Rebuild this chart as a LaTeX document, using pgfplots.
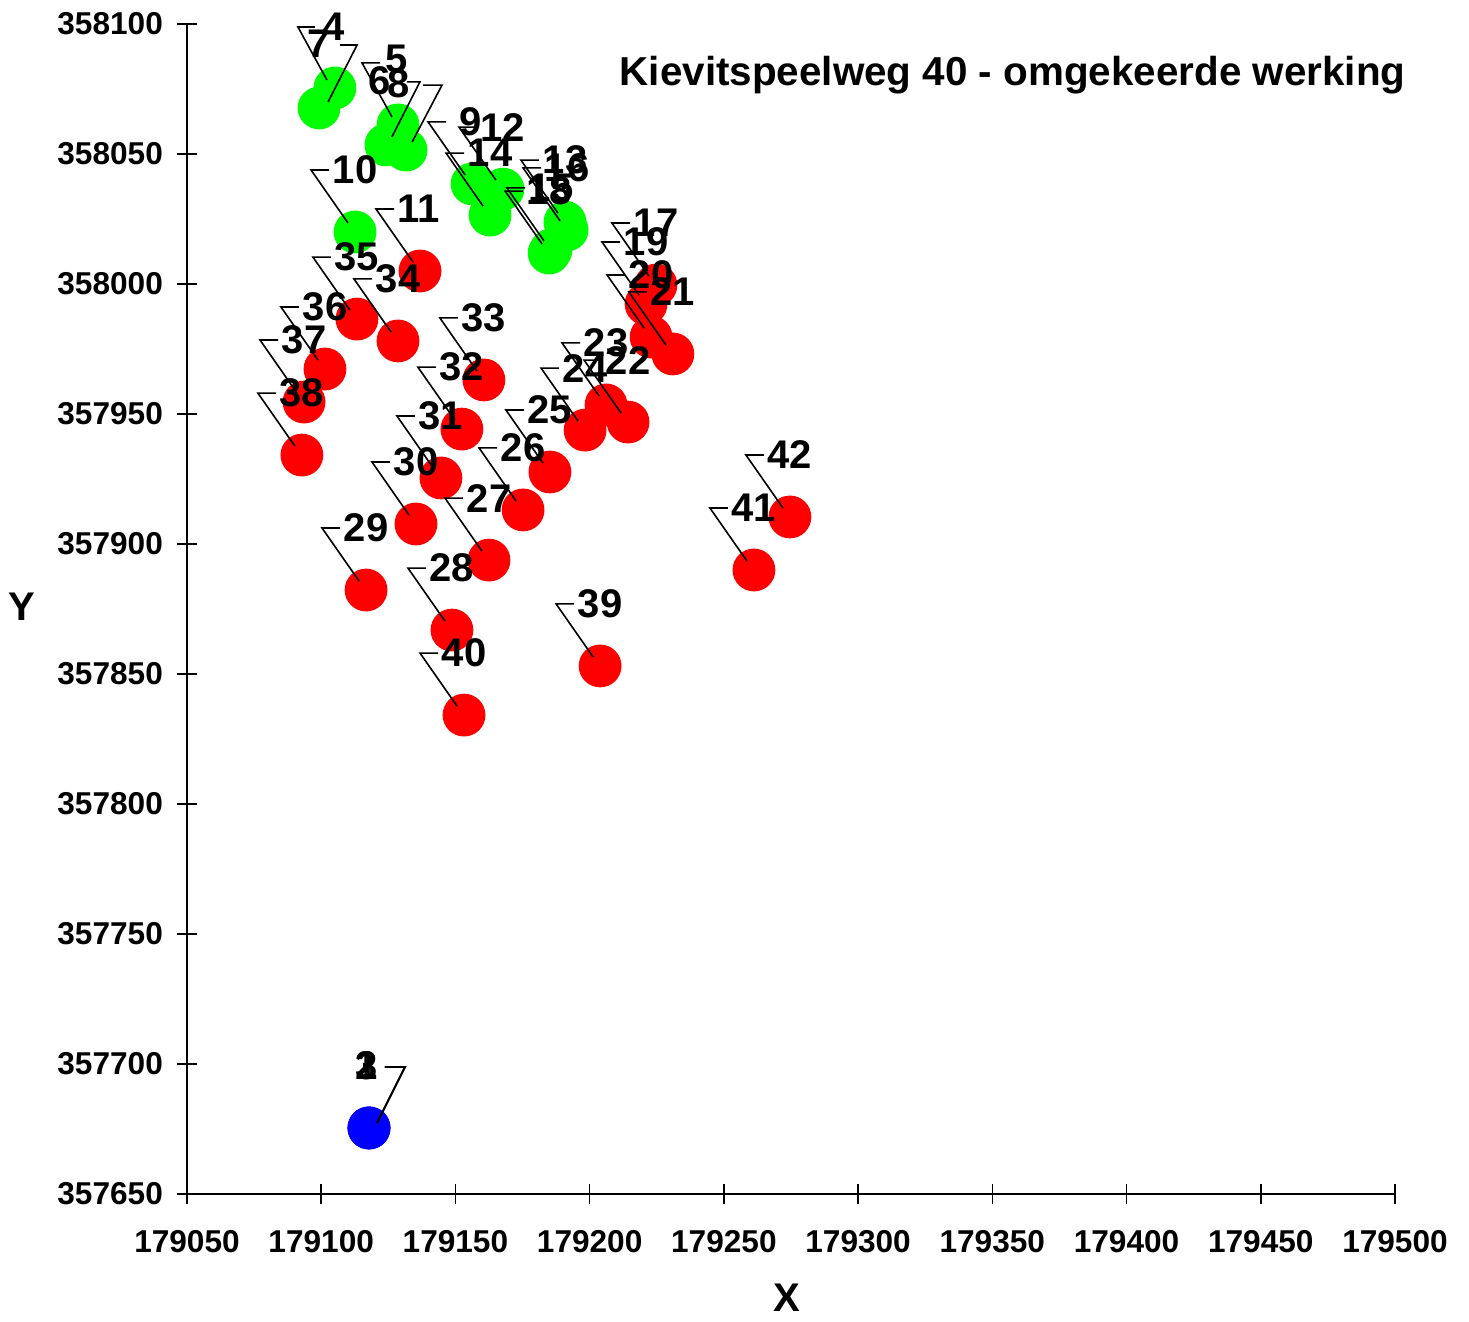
\documentclass[border=0pt]{standalone}
\usepackage{fontspec}
\setmainfont{Liberation Sans}
\usepackage{pgfplots}
\usepackage{pgfplotstable}
\pgfplotsset{compat=1.18}
\definecolor{pgreen}{RGB}{0,255,0}
\definecolor{pred}{RGB}{255,0,0}
\definecolor{pblue}{RGB}{0,0,255}
\newcommand\lblfont{\bfseries\fontsize{10}{12}\selectfont}
% leader-line marks (callout lines of the data labels)
\pgfdeclareplotmark{ldrA}{\pgfpathmoveto{\pgfqpoint{-1.75pt}{2.25pt}}\pgfpathlineto{\pgfqpoint{-11pt}{15.5pt}}\pgfpathlineto{\pgfqpoint{-6.5pt}{15.5pt}}\pgfusepathqstroke}
\pgfdeclareplotmark{ldrB}{\pgfpathmoveto{\pgfqpoint{2pt}{1.25pt}}\pgfpathlineto{\pgfqpoint{9pt}{15.25pt}}\pgfpathlineto{\pgfqpoint{4pt}{15.25pt}}\pgfusepathqstroke}
\pgfdeclareplotmark{ldrD}{\pgfpathmoveto{\pgfqpoint{-2pt}{2pt}}\pgfpathlineto{\pgfqpoint{-9.25pt}{15.25pt}}\pgfpathlineto{\pgfqpoint{-5pt}{15.25pt}}\pgfusepathqstroke}
\pgfdeclareplotmark{ldrG}{\pgfpathmoveto{\pgfqpoint{2.25pt}{1.5pt}}\pgfpathlineto{\pgfqpoint{9.5pt}{15.75pt}}\pgfpathlineto{\pgfqpoint{5.25pt}{15.75pt}}\pgfusepathqstroke}
\pgfdeclareplotmark{ldrE}{\pgfpathmoveto{\pgfqpoint{-1.5pt}{2pt}}\pgfpathlineto{\pgfqpoint{-9pt}{15.5pt}}\pgfpathlineto{\pgfqpoint{-4.5pt}{15.5pt}}\pgfusepathqstroke}
\pgfdeclareplotmark{ldrF}{\pgfpathmoveto{\pgfqpoint{1.5pt}{2pt}}\pgfpathlineto{\pgfqpoint{8.5pt}{15.75pt}}\pgfpathlineto{\pgfqpoint{5.25pt}{15.75pt}}\pgfusepathqstroke}
\pgfdeclareplotmark{ldrH}{\pgfpathmoveto{\pgfqpoint{1.5pt}{2pt}}\pgfpathlineto{\pgfqpoint{9pt}{16.25pt}}\pgfpathlineto{\pgfqpoint{4.25pt}{16.25pt}}\pgfusepathqstroke}

\pgfplotstableread{
x y lab
179117.8 357675.4 1
179117.8 357675.4 3
179117.8 357675.4 2
}\bluetab
\pgfplotstableread{
x y lab
179105.1 358075.4 4
179128.6 358061.2 5
179124.1 358053.5 6
179099.2 358067.7 7
179131.6 358051.5 8
179156.2 358038.5 9
179112.6 358020.0 10
179167.7 358036.5 12
179190.8 358023.8 13
179162.9 358026.5 14
179185.6 358013.1 15
179191.6 358020.8 16
179184.9 358011.9 18
}\greentab
\pgfplotstableread{
x y lab
179112.6 358020.0 10
179167.7 358036.5 12
179190.8 358023.8 13
179162.9 358026.5 14
179185.6 358013.1 15
179191.6 358020.8 16
179184.9 358011.9 18
}\greenstd
\pgfplotstableread{
x y lab
179136.8 358005.0 11
179224.7 357999.6 17
179221.0 357992.3 19
179222.9 357979.6 20
179231.0 357973.1 21
179214.3 357946.9 22
179206.1 357953.5 23
179198.3 357943.8 24
179185.2 357927.7 25
179175.2 357913.1 26
179162.5 357893.8 27
179148.7 357866.9 28
179116.7 357882.3 29
179135.3 357907.7 30
179144.6 357925.4 31
179152.4 357944.2 32
179160.6 357963.1 33
179128.6 357978.1 34
179113.3 357986.5 35
179101.4 357967.3 36
179093.6 357954.6 37
179092.8 357934.2 38
179203.9 357853.1 39
179153.2 357834.2 40
179261.2 357890.0 41
179274.6 357910.4 42
}\redtab

\begin{document}
\begin{tikzpicture}
\useasboundingbox (-46.75pt,-31.75pt) rectangle (320.5pt,298.5pt);
\begin{axis}[
  at={(0,0)}, anchor=south west,
  scale only axis, width=302pt, height=292.5pt,
  xmin=179050, xmax=179500, ymin=357650, ymax=358100,
  xtick={179050,179100,179150,179200,179250,179300,179350,179400,179450,179500},
  ytick={357650,357700,357750,357800,357850,357900,357950,358000,358050,358100},
  axis x line*=bottom, axis y line*=left,
  axis line style={black, line width=0.65pt},
  tick align=center, major tick length=5pt,
  tick style={black, line width=0.4pt},
  scaled ticks=false,
  /pgf/number format/fixed,
  /pgf/number format/precision=0,
  /pgf/number format/1000 sep={},
  /pgf/number format/assume math mode=true,
  ticklabel style={font=\bfseries\fontsize{7.9}{9}\selectfont},
  xticklabel style={yshift=-3pt},
  xlabel={X}, ylabel={Y},
  xlabel style={at={(axis description cs:0.4967,-0.0889)}, anchor=center, font=\lblfont},
  ylabel style={at={(axis description cs:-0.1366,0.5017)}, anchor=center, rotate=-90, font=\lblfont},
  clip=false,
  lbl/.style={nodes near coords, point meta=explicit symbolic,
    every node near coord/.append style={inner sep=0pt, font=\lblfont, text=black}},
]
% circles
\addplot[only marks, mark=*, mark size=5.15pt, mark options={draw=pred, fill=pred, line width=0.4pt}] table[x=x,y=y] {\redtab};
\addplot[only marks, mark=*, mark size=5.15pt, mark options={draw=pgreen, fill=pgreen, line width=0.4pt}] table[x=x,y=y] {\greentab};
\addplot[only marks, mark=*, mark size=5.15pt, mark options={draw=pblue, fill=pblue, line width=0.4pt}] table[x=x,y=y] {\bluetab};
% leader lines and labels
\addplot[only marks, mark=ldrA, mark options={black, line width=0.4pt}, lbl,
  every node near coord/.append style={anchor=west, xshift=-5.75pt, yshift=15.5pt}]
  table[x=x,y=y,meta=lab] {\redtab};
\addplot[only marks, mark=ldrA, mark options={black, line width=0.4pt}, lbl,
  every node near coord/.append style={anchor=west, xshift=-5.75pt, yshift=15.5pt}]
  table[x=x,y=y,meta=lab] {\greenstd};
\addplot[only marks, mark=ldrA, mark options={black, line width=0.4pt}, lbl,
  every node near coord/.append style={anchor=west, xshift=-3.25pt, yshift=15.5pt}]
  coordinates {(179156.2,358038.5) [9]};
\addplot[only marks, mark=ldrB, mark options={black, line width=0.4pt}, lbl,
  every node near coord/.append style={anchor=east, xshift=2.5pt, yshift=15.5pt}]
  table[x=x,y=y,meta=lab] {\bluetab};
\addplot[only marks, mark=ldrD, mark options={black, line width=0.4pt}, lbl,
  every node near coord/.append style={anchor=west, xshift=-3.25pt, yshift=15.25pt}]
  coordinates {(179105.1,358075.4) [4]};
\addplot[only marks, mark=ldrE, mark options={black, line width=0.4pt}, lbl,
  every node near coord/.append style={anchor=west, xshift=-3.25pt, yshift=16.5pt}]
  coordinates {(179128.6,358061.2) [5]};
\addplot[only marks, mark=ldrF, mark options={black, line width=0.4pt}, lbl,
  every node near coord/.append style={anchor=east, xshift=1.5pt, yshift=16pt}]
  coordinates {(179124.1,358053.5) [6]};
\addplot[only marks, mark=ldrG, mark options={black, line width=0.4pt}, lbl,
  every node near coord/.append style={anchor=east, xshift=2.75pt, yshift=16pt}]
  coordinates {(179099.2,358067.7) [7]};
\addplot[only marks, mark=ldrH, mark options={black, line width=0.4pt}, lbl,
  every node near coord/.append style={anchor=east, xshift=1.25pt, yshift=16.5pt}]
  coordinates {(179131.6,358051.5) [8]};
\node[font=\bfseries\fontsize{10.1}{12}\selectfont, anchor=center] at (rel axis cs:0.6835,0.9565) {Kievitspeelweg 40 - omgekeerde werking};
\end{axis}
\end{tikzpicture}
\end{document}
